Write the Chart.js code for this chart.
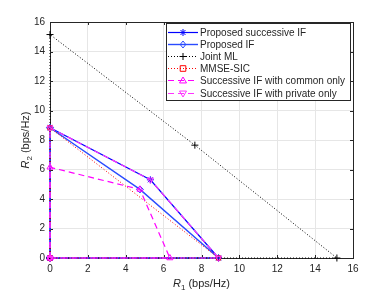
<!DOCTYPE html>
<html>
<head>
<meta charset="utf-8">
<script src="https://cdn.jsdelivr.net/npm/chart.js@4.4.1/dist/chart.umd.min.js"></script>
<style>
  html, body { margin: 0; padding: 0; background: #fff; }
  #wrap { width: 390px; height: 293px; position: relative; }
</style>
</head>
<body>
<div id="wrap"><canvas id="c"></canvas></div>
<script>
// rate region corner points, R1 (x) and R2 (y), bps/Hz
const succIfX = [0, 0, 5.3, 8.9, 0];
const succIfY = [0, 8.83, 5.3, 0, 0];
const propIfX = [0, 0, 4.75, 8.9, 0];
const propIfY = [0, 8.83, 4.65, 0, 0];
const jointMlX = [0, 0, 7.65, 15.15, 0];
const jointMlY = [0, 15.15, 7.65, 0, 0];
const mmseX = [0, 0, 8.9, 0];
const mmseY = [0, 8.83, 0, 0];
const commonX = [0, 0, 4.75, 6.33, 0];
const commonY = [0, 6.15, 4.65, 0, 0];
const privateX = [0, 0, 5.3, 8.9, 0];
const privateY = [0, 8.83, 5.3, 0, 0];

const axisTicks = [0, 2, 4, 6, 8, 10, 12, 14, 16];

const labels = [
  'Proposed successive IF',
  'Proposed IF',
  'Joint ML',
  'MMSE-SIC',
  'Successive IF with common only',
  'Successive IF with private only'
];

const pts = (xs, ys) => xs.map((x, i) => ({ x: x, y: ys[i] }));

const FONT = '"Liberation Sans", Arial, Helvetica, sans-serif';
const AXIS = '#262626';

const styles = [
  { color: '#0000ff', dash: [], marker: 'star', width: 1.2 },
  { color: '#2a4bff', dash: [], marker: 'rectRot', width: 1.4 },
  { color: '#000000', dash: [1, 2], marker: 'cross', width: 1 },
  { color: '#ff0000', dash: [1, 2], marker: 'rect', width: 1 },
  { color: '#ff00ff', dash: [6, 4], marker: 'triangle', width: 1.2 },
  { color: '#ff33ff', dash: [6, 4], marker: 'triangle', rot: 180, width: 1.2 }
];

const series = [
  pts(succIfX, succIfY),
  pts(propIfX, propIfY),
  pts(jointMlX, jointMlY),
  pts(mmseX, mmseY),
  pts(commonX, commonY),
  pts(privateX, privateY)
];

const datasets = series.map((d, i) => ({
  label: labels[i],
  data: d,
  borderColor: styles[i].color,
  borderWidth: styles[i].width,
  borderDash: styles[i].dash,
  pointStyle: styles[i].marker,
  pointRotation: styles[i].rot || 0,
  pointRadius: styles[i].marker === 'rect' ? 3 : 3.5,
  pointBorderColor: styles[i].color,
  pointBackgroundColor: 'rgba(0,0,0,0)',
  pointBorderWidth: 1,
  fill: false,
  tension: 0,
  showLine: true,
  clip: 6,
  order: 6 - i
}));

// own marker drawing for the legend
function marker(ctx, type, x, y, r, rot) {
  ctx.beginPath();
  if (type === 'star') {
    for (let k = 0; k < 4; k++) {
      const a = k * Math.PI / 4;
      ctx.moveTo(x - r * Math.cos(a), y - r * Math.sin(a));
      ctx.lineTo(x + r * Math.cos(a), y + r * Math.sin(a));
    }
  } else if (type === 'rectRot') {
    ctx.moveTo(x, y - r); ctx.lineTo(x + r * 0.8, y);
    ctx.lineTo(x, y + r); ctx.lineTo(x - r * 0.8, y); ctx.closePath();
  } else if (type === 'cross') {
    ctx.moveTo(x - r, y); ctx.lineTo(x + r, y);
    ctx.moveTo(x, y - r); ctx.lineTo(x, y + r);
  } else if (type === 'rect') {
    ctx.rect(x - r * 0.8, y - r * 0.8, r * 1.6, r * 1.6);
  } else if (type === 'triangle') {
    const s = rot ? -1 : 1;
    ctx.moveTo(x, y - s * r); ctx.lineTo(x + r, y + s * r * 0.7);
    ctx.lineTo(x - r, y + s * r * 0.7); ctx.closePath();
  }
  ctx.stroke();
}

const framePlugin = {
  id: 'frame',
  beforeDatasetsDraw(chart) {
    const ctx = chart.ctx;
    const a = chart.chartArea;
    const xs = chart.scales.x, ys = chart.scales.y;
    ctx.save();
    // box and inward ticks, under the data like matlab
    ctx.strokeStyle = AXIS;
    ctx.lineWidth = 1;
    ctx.setLineDash([]);
    ctx.strokeRect(Math.round(a.left) + 0.5, Math.round(a.top) + 0.5,
      Math.round(a.right - a.left), Math.round(a.bottom - a.top));
    ctx.beginPath();
    axisTicks.forEach(t => {
      const px = Math.round(xs.getPixelForValue(t)) + 0.5;
      ctx.moveTo(px, a.bottom); ctx.lineTo(px, a.bottom - 3);
      ctx.moveTo(px, a.top); ctx.lineTo(px, a.top + 3);
      const py = Math.round(ys.getPixelForValue(t)) + 0.5;
      ctx.moveTo(a.left, py); ctx.lineTo(a.left + 3, py);
      ctx.moveTo(a.right, py); ctx.lineTo(a.right - 3, py);
    });
    ctx.stroke();
    ctx.restore();
  },
  afterDraw(chart) {
    const ctx = chart.ctx;
    const a = chart.chartArea;
    ctx.save();
    // axis titles
    ctx.fillStyle = AXIS;
    ctx.textBaseline = 'alphabetic';
    const drawTitle = (sub) => {
      ctx.font = 'italic 11px ' + FONT;
      const wR = ctx.measureText('R').width;
      ctx.font = '8px ' + FONT;
      const wS = ctx.measureText(sub).width;
      ctx.font = '11px ' + FONT;
      const rest = ' (bps/Hz)';
      const wT = ctx.measureText(rest).width;
      let x0 = -(wR + wS + wT) / 2;
      ctx.textAlign = 'left';
      ctx.font = 'italic 11px ' + FONT;
      ctx.fillText('R', x0, 0);
      ctx.font = '8px ' + FONT;
      ctx.fillText(sub, x0 + wR, 3);
      ctx.font = '11px ' + FONT;
      ctx.fillText(rest, x0 + wR + wS, 0);
    };
    ctx.save();
    ctx.translate((a.left + a.right) / 2, 287);
    drawTitle('1');
    ctx.restore();
    ctx.save();
    ctx.translate(29, (a.top + a.bottom) / 2);
    ctx.rotate(-Math.PI / 2);
    drawTitle('2');
    ctx.restore();

    // legend
    const lx = 166.5, ly = 23.5, lw = 184, lh = 77;
    ctx.fillStyle = '#fff';
    ctx.fillRect(lx, ly, lw, lh);
    ctx.strokeStyle = AXIS;
    ctx.setLineDash([]);
    ctx.strokeRect(lx, ly, lw, lh);
    ctx.font = '10px ' + FONT;
    ctx.textAlign = 'left';
    ctx.textBaseline = 'middle';
    labels.forEach((lab, i) => {
      const st = styles[i];
      const y = Math.round(ly + 8.5 + i * 12.1) + 0.5;
      ctx.strokeStyle = st.color;
      ctx.lineWidth = st.width;
      ctx.setLineDash(st.dash);
      ctx.beginPath();
      ctx.moveTo(168, y); ctx.lineTo(198, y);
      ctx.stroke();
      ctx.setLineDash([]);
      ctx.lineWidth = 1;
      marker(ctx, st.marker, 183, y, 3.5, st.rot);
      ctx.fillStyle = AXIS;
      ctx.fillText(lab, 200, y + 0.5);
    });
    ctx.restore();
  }
};

new Chart(document.getElementById('c'), {
  type: 'scatter',
  data: { datasets: datasets },
  options: {
    responsive: true,
    maintainAspectRatio: false,
    animation: false,
    layout: { padding: { left: 0, top: 22, right: 37, bottom: 0 } },
    plugins: { legend: { display: false }, tooltip: { enabled: false } },
    scales: {
      x: {
        type: 'linear', min: 0, max: 16,
        afterFit: (s) => { s.height = 35; },
        afterBuildTicks: (s) => { s.ticks = axisTicks.map(v => ({ value: v })); },
        ticks: { color: AXIS, font: { family: FONT, size: 10 }, padding: 5 },
        grid: { color: '#e6e6e6', drawTicks: false },
        border: { display: false }
      },
      y: {
        type: 'linear', min: 0, max: 16,
        afterFit: (s) => { s.width = 50; },
        afterBuildTicks: (s) => { s.ticks = axisTicks.map(v => ({ value: v })); },
        ticks: { color: AXIS, font: { family: FONT, size: 10 }, padding: 5 },
        grid: { color: '#e6e6e6', drawTicks: false },
        border: { display: false }
      }
    }
  },
  plugins: [framePlugin]
});
</script>
</body>
</html>
